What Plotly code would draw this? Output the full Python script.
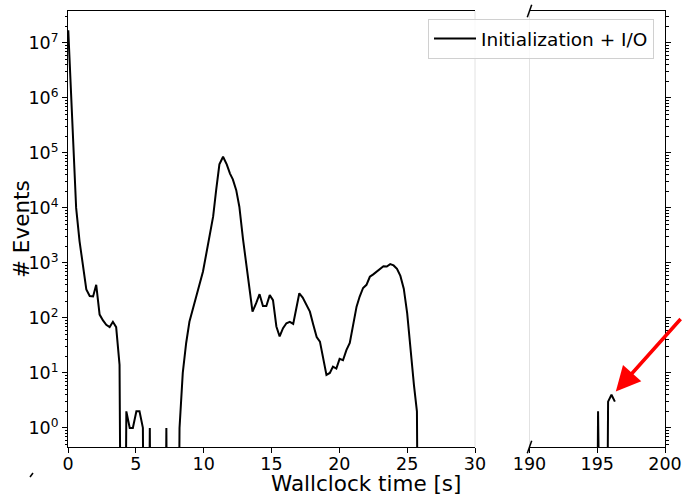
import numpy as np
import plotly.graph_objects as go

# Event counts per time bin (wallclock seconds); 0 means an empty bin
time_s = [
    0.02, 0.6, 0.85, 1.1, 1.35, 1.6, 1.85, 2.08, 2.33, 2.58, 2.82, 3.07, 3.31, 3.55, 3.8,
    4.05, 4.3, 4.55, 4.78, 5.04, 5.27, 5.52, 5.77, 6.03, 6.27, 7.0, 7.25, 7.5, 7.97,
    8.22, 8.46, 8.71, 8.95, 9.2, 9.45, 9.7, 9.95, 10.2, 10.45, 10.7, 10.92, 11.16, 11.43,
    11.7, 11.94, 12.15, 12.4, 12.63, 12.9, 13.12, 13.3, 13.6, 13.87, 14.12, 14.37, 14.62,
    14.87, 15.11, 15.36, 15.6, 15.85, 16.1, 16.35, 16.6, 16.83, 17.05, 17.3, 17.58, 17.83,
    18.08, 18.33, 18.57, 18.8, 19.05, 19.3, 19.53, 19.78, 20.02, 20.27, 20.52, 20.77,
    21.02, 21.27, 21.5, 21.75, 22.0, 22.25, 22.5, 22.75, 23.0, 23.25, 23.5, 23.75, 24.0,
    24.25, 24.5, 24.75, 25.0, 25.25, 25.5, 25.72, 25.97,
    194.81, 195.06, 195.31, 195.55, 195.8, 196.05, 196.3,
]
events = [
    1.7e7, 1.0e4, 2500, 900, 330, 250, 245, 400, 115, 90, 75, 68, 85, 68, 14,
    0, 2, 1, 1, 2, 2, 1, 0, 1, 0, 0, 1, 0, 0,
    1, 10, 35, 85, 140, 240, 420, 700, 1500, 3000, 7000, 21000, 62000, 85000,
    62000, 42000, 33000, 21000, 10500, 2700, 1050, 480, 130, 185, 270, 165, 165,
    260, 210, 70, 46, 65, 80, 85, 78, 150, 280, 235, 175, 130,
    75, 45, 37, 18, 9.2, 10, 13, 12, 18, 17, 26, 35,
    80, 160, 245, 350, 400, 560, 620, 700, 800, 870, 860, 950, 900,
    780, 580, 340, 122, 23, 6, 2, 0,
    0, 2, 0, 0, 3, 4, 3,
]

# Empty bins have no place on a log axis: push them far below the visible range
EMPTY_FLOOR = 1e-9
events_plot = [v if v > 0 else EMPTY_FLOOR for v in events]

left_xrange = [0, 30]
right_xrange = [190, 200]
y_log_range = [np.log10(0.45), np.log10(3.8e7)]
x_ticks_left = [0, 5, 10, 15, 20, 25, 30]
x_ticks_right = [190, 195, 200]
decades = list(range(0, 8))
y_tickvals = [10 ** k for k in decades]
y_ticktext = [f"10<sup>{k}</sup>" for k in decades]
y_minor = [m * 10 ** k for k in range(-1, 8) for m in range(2, 10)]

FONT = "DejaVu Sans"
W, H = 682, 495
ML, MR, MT, MB = 68, 17, 11, 48
plot_w = W - ML - MR
plot_h = H - MT - MB
left_end = (475 - ML) / plot_w
right_start = (529.5 - ML) / plot_w

fig = go.Figure()
fig.add_trace(go.Scatter(
    x=time_s, y=events_plot, mode="lines", name="Initialization + I/O",
    line=dict(color="black", width=2), xaxis="x", yaxis="y",
))
fig.add_trace(go.Scatter(
    x=time_s, y=events_plot, mode="lines", name="Initialization + I/O",
    line=dict(color="black", width=2), xaxis="x2", yaxis="y2", showlegend=False,
))

tick_font = dict(family=FONT, size=17.5, color="black")
axis_common = dict(
    showgrid=False, zeroline=False, showline=True, linecolor="black", linewidth=1,
    ticks="outside", ticklen=5, tickwidth=1, tickcolor="black", tickfont=tick_font,
    automargin=False,
)
minor_y = dict(tickvals=y_minor, ticks="outside", ticklen=2.5, tickwidth=0.8,
               tickcolor="black", showgrid=False)

fig.update_layout(
    width=W, height=H,
    margin=dict(l=ML, r=MR, t=MT, b=MB, autoexpand=False),
    paper_bgcolor="white", plot_bgcolor="white",
    font=dict(family=FONT, color="black"),
    xaxis=dict(domain=[0, left_end], range=left_xrange, tickvals=x_ticks_left,
               mirror=True, anchor="y", ticklabelstandoff=-4, **axis_common),
    xaxis2=dict(domain=[right_start, 1], range=right_xrange, tickvals=x_ticks_right,
                mirror=True, anchor="y2", ticklabelstandoff=-4, **axis_common),
    yaxis=dict(type="log", range=y_log_range, tickvals=y_tickvals, ticktext=y_ticktext,
               anchor="x", minor=minor_y, **axis_common),
    yaxis2=dict(type="log", range=y_log_range, tickvals=y_tickvals, anchor="x2",
                side="right", showticklabels=False, minor=minor_y, **axis_common),
    showlegend=True,
    legend=dict(x=(654 - ML) / plot_w, y=(H - MB - 19) / plot_h,
                xanchor="right", yanchor="top", itemwidth=42,
                bgcolor="rgba(255,255,255,0.8)", bordercolor="#d0d0d0", borderwidth=1,
                font=dict(family=FONT, size=18.5, color="black")),
)

# Light inner spines on either side of the axis break
fig.add_shape(type="line", xref="x domain", yref="y domain", x0=1, x1=1, y0=0, y1=1,
              line=dict(color="#e2e2e2", width=1))
fig.add_shape(type="line", xref="x2 domain", yref="y2 domain", x0=0, x1=0, y0=0, y1=1,
              line=dict(color="#e2e2e2", width=1))

# Diagonal break marks
for yd in (0, 1):
    fig.add_shape(type="line", xref="x2 domain", yref="y2 domain",
                  xsizemode="pixel", xanchor=0, x0=-2.2, x1=2.2,
                  ysizemode="pixel", yanchor=yd, y0=-6.3, y1=6.3,
                  line=dict(color="black", width=1.5))
fig.add_shape(type="line", xref="x domain", yref="y domain",
              xsizemode="pixel", xanchor=0, x0=-38, x1=-35,
              ysizemode="pixel", yanchor=0, y0=-30, y1=-26,
              line=dict(color="black", width=1.5))

# Axis titles
fig.add_annotation(text="Wallclock time [s]", xref="paper", yref="paper",
                   x=(366 - ML) / plot_w, y=(447 - 483) / plot_h,
                   xanchor="center", yanchor="middle", showarrow=False,
                   font=dict(family=FONT, size=21.5, color="black"))
fig.add_annotation(text="# Events", xref="paper", yref="paper", textangle=-90,
                   x=(21 - ML) / plot_w, y=(447 - 229) / plot_h,
                   xanchor="center", yanchor="middle", showarrow=False,
                   font=dict(family=FONT, size=21.5, color="black"))

# Arrow to the late events
fig.add_annotation(x=196.37, y=np.log10(4.6), xref="x2", yref="y2", text="",
                   showarrow=True, arrowhead=2, arrowsize=1.4, arrowwidth=3.5,
                   arrowcolor="red", ax=85, ay=-74, standoff=0)

fig.write_html("out.html")
